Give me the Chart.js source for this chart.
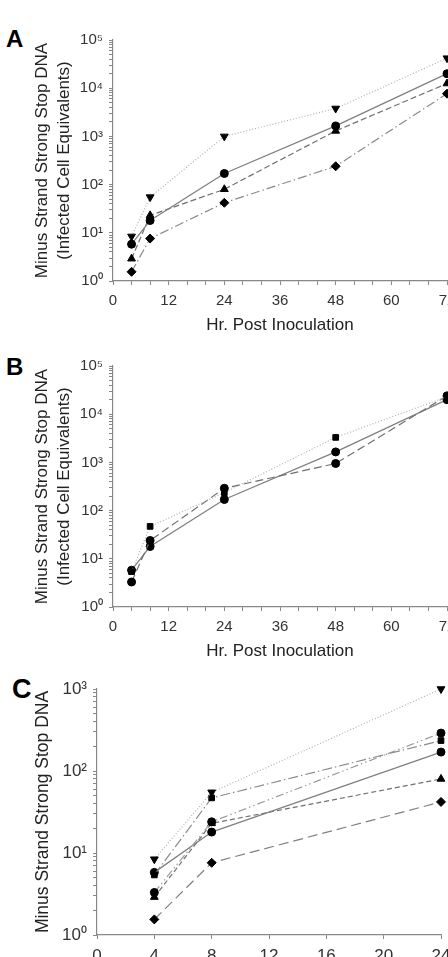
<!DOCTYPE html>
<html>
<head>
<meta charset="utf-8">
<script src="https://cdn.jsdelivr.net/npm/chart.js@4.4.1/dist/chart.umd.min.js"></script>
<style>
  html, body { margin: 0; padding: 0; background: #fff; width: 448px; height: 957px; overflow: hidden; }
  .panel { position: absolute; left: 0; }
  .lbl { position: absolute; font-family: "Liberation Sans", Arial, sans-serif; font-weight: bold; line-height: 24px; color: #000; }
</style>
</head>
<body>
<div class="lbl" id="labA" style="left:6px; top:27px; font-size:24px;">A</div>
<div class="lbl" id="labB" style="left:6px; top:355px; font-size:24px;">B</div>
<div class="lbl" id="labC" style="left:12px; top:677px; font-size:27px;">C</div>
<div class="panel" style="top:0px; width:490px; height:345px;"><canvas id="chartA"></canvas></div>
<div class="panel" style="top:326px; width:490px; height:345px;"><canvas id="chartB"></canvas></div>
<div class="panel" style="top:650px; width:490px; height:330px;"><canvas id="chartC"></canvas></div>
<script>
// ---- data ----
const hoursAB = [4, 8, 24, 48, 72];
const hoursC = [4, 8, 24];
const circleSolid = [5.8, 18, 170, 1650, 20000];
const invTriangle = [8.4, 55, 1000, 3800, 42000];
const upTriangle = [2.9, 23, 80, 1300, 12500];
const diamond = [1.55, 7.6, 42, 240, 7700];
const square = [5.4, 47, 235, 3300, 23000];
const circleDashed = [3.3, 24, 290, 950, 24000];

const yTickLabelsAB = ['10\u2070', '10\u00b9', '10\u00b2', '10\u00b3', '10\u2074', '10\u2075'];
const yTickLabelsC = ['10\u2070', '10\u00b9', '10\u00b2', '10\u00b3'];
const xTickLabelsAB = ['0', '12', '24', '36', '48', '60', '72'];
const xTickLabelsC = ['0', '4', '8', '12', '16', '20', '24'];

const yTitleAB = ['Minus Strand Strong Stop DNA', '(Infected Cell Equivalents)'];
const yTitleC = 'Minus Strand Strong Stop DNA';
const xTitle = 'Hr. Post Inoculation';

const FONT = '"Liberation Sans", Arial, sans-serif';

function pts(xs, ys) {
  return xs.map((x, i) => ({ x: x, y: ys[i] }));
}

const styles = {
  invTri:  { pointStyle: 'triangle', rotation: 180, color: '#b0b0b0', dash: [1, 2], width: 1.2, r: 4.5 },
  circle:  { pointStyle: 'circle', rotation: 0, color: '#808080', dash: [], width: 1.3, r: 4 },
  tri:     { pointStyle: 'triangle', rotation: 0, color: '#707070', dash: [6, 3], width: 1.2, r: 4.5 },
  diamond: { pointStyle: 'rectRot', rotation: 0, color: '#8a8a8a', dash: [9, 3, 1.5, 3], width: 1.2, r: 4.5 },
  square:  { pointStyle: 'rect', rotation: 0, color: '#b0b0b0', dash: [1, 2], width: 1.2, r: 4 },
  circle2: { pointStyle: 'circle', rotation: 0, color: '#707070', dash: [8, 4], width: 1.2, r: 4 }
};

function ds(label, xs, ys, st, override) {
  const s = Object.assign({}, st, override || {});
  return {
    label: label,
    data: pts(xs, ys),
    borderColor: s.color,
    borderWidth: s.width,
    borderDash: s.dash,
    pointStyle: s.pointStyle,
    pointRotation: s.rotation,
    pointRadius: s.r,
    pointBackgroundColor: '#000',
    pointBorderColor: '#000',
    pointBorderWidth: 1,
    fill: false,
    tension: 0,
    clip: false
  };
}

function buildLogTicks(scale, maxExp) {
  const t = [];
  for (let e = 0; e < maxExp; e++) {
    for (let m = 1; m < 10; m++) t.push({ value: m * Math.pow(10, e) });
  }
  t.push({ value: Math.pow(10, maxExp) });
  scale.ticks = t;
}

function makeChart(id, cfg) {
  const yLabels = cfg.yLabels;
  const maxExp = yLabels.length - 1;
  const xLabels = cfg.xLabels;
  const xStepLabel = Number(xLabels[1]);
  return new Chart(document.getElementById(id), {
    type: 'line',
    data: { datasets: cfg.datasets },
    options: {
      responsive: true,
      maintainAspectRatio: false,
      animation: false,
      events: [],
      layout: { padding: { top: cfg.padTop, right: cfg.padRight, left: 0, bottom: 0 } },
      plugins: { legend: { display: false }, tooltip: { enabled: false } },
      scales: {
        x: {
          type: 'linear',
          min: 0,
          max: Number(xLabels[xLabels.length - 1]),
          afterFit: (s) => { s.height = cfg.xHeight; },
          ticks: {
            stepSize: cfg.xStep,
            autoSkip: false,
            maxRotation: 0,
            padding: 7,
            color: '#333',
            font: { family: FONT, size: cfg.tickSize },
            callback: (v) => {
              const i = xLabels.indexOf(String(v));
              return i >= 0 ? xLabels[i] : '';
            }
          },
          grid: { drawOnChartArea: false, drawTicks: true, tickLength: 4, tickColor: '#888', tickWidth: 1 },
          border: { display: true, color: '#888', width: 1.2 },
          title: cfg.xTitle ? {
            display: true, text: cfg.xTitle, color: '#222',
            font: { family: FONT, size: 17, lineHeight: 1.2 },
            padding: { top: 0, bottom: 9 }
          } : { display: false }
        },
        y: {
          type: 'logarithmic',
          min: 1,
          max: Math.pow(10, maxExp),
          afterFit: (s) => { s.width = cfg.yWidth; },
          afterBuildTicks: (s) => buildLogTicks(s, maxExp),
          ticks: {
            autoSkip: false,
            padding: 6,
            color: '#333',
            font: { family: FONT, size: cfg.tickSize },
            callback: (v) => {
              const e = Math.log10(v);
              const r = Math.round(e);
              return Math.abs(e - r) < 1e-9 ? yLabels[r] : '';
            }
          },
          grid: { drawOnChartArea: false, drawTicks: true, tickLength: 4, tickColor: '#888', tickWidth: 1 },
          border: { display: true, color: '#888', width: 1.2 },
          title: {
            display: true, text: cfg.yTitle, color: '#222',
            font: { family: FONT, size: cfg.yTitleSize, lineHeight: 1.25 },
            padding: { top: cfg.yTitlePad, bottom: 0 }
          }
        }
      }
    }
  });
}

makeChart('chartA', {
  datasets: [
    ds('inverted triangle', hoursAB, invTriangle, styles.invTri),
    ds('circle', hoursAB, circleSolid, styles.circle),
    ds('triangle', hoursAB, upTriangle, styles.tri),
    ds('diamond', hoursAB, diamond, styles.diamond)
  ],
  yLabels: yTickLabelsAB, xLabels: xTickLabelsAB, xStep: 4,
  padTop: 40, padRight: 43, xHeight: 64, yWidth: 113,
  tickSize: 15, yTitle: yTitleAB, yTitleSize: 17, yTitlePad: 32, xTitle: xTitle
});

makeChart('chartB', {
  datasets: [
    ds('square', hoursAB, square, styles.square),
    ds('circle dashed', hoursAB, circleDashed, styles.circle2),
    ds('circle', hoursAB, circleSolid, styles.circle)
  ],
  yLabels: yTickLabelsAB, xLabels: xTickLabelsAB, xStep: 4,
  padTop: 40, padRight: 43, xHeight: 64, yWidth: 113,
  tickSize: 15, yTitle: yTitleAB, yTitleSize: 17, yTitlePad: 32, xTitle: xTitle
});

makeChart('chartC', {
  datasets: [
    ds('inverted triangle', hoursC, invTriangle.slice(0, 3), styles.invTri),
    ds('square', hoursC, square.slice(0, 3), styles.square, { color: '#8a8a8a', dash: [10, 3, 1.5, 3] }),
    ds('circle dashed', hoursC, circleDashed.slice(0, 3), styles.circle2, { color: '#9a9a9a', dash: [8, 3, 1.5, 3, 1.5, 3] }),
    ds('circle', hoursC, circleSolid.slice(0, 3), styles.circle),
    ds('triangle', hoursC, upTriangle.slice(0, 3), styles.tri, { dash: [5, 3] }),
    ds('diamond', hoursC, diamond.slice(0, 3), styles.diamond, { dash: [10, 5], color: '#808080' })
  ],
  yLabels: yTickLabelsC, xLabels: xTickLabelsC, xStep: 4,
  padTop: 39, padRight: 49, xHeight: 45, yWidth: 97,
  tickSize: 17, yTitle: yTitleC, yTitleSize: 17.5, yTitlePad: 32, xTitle: null
});
</script>
</body>
</html>
